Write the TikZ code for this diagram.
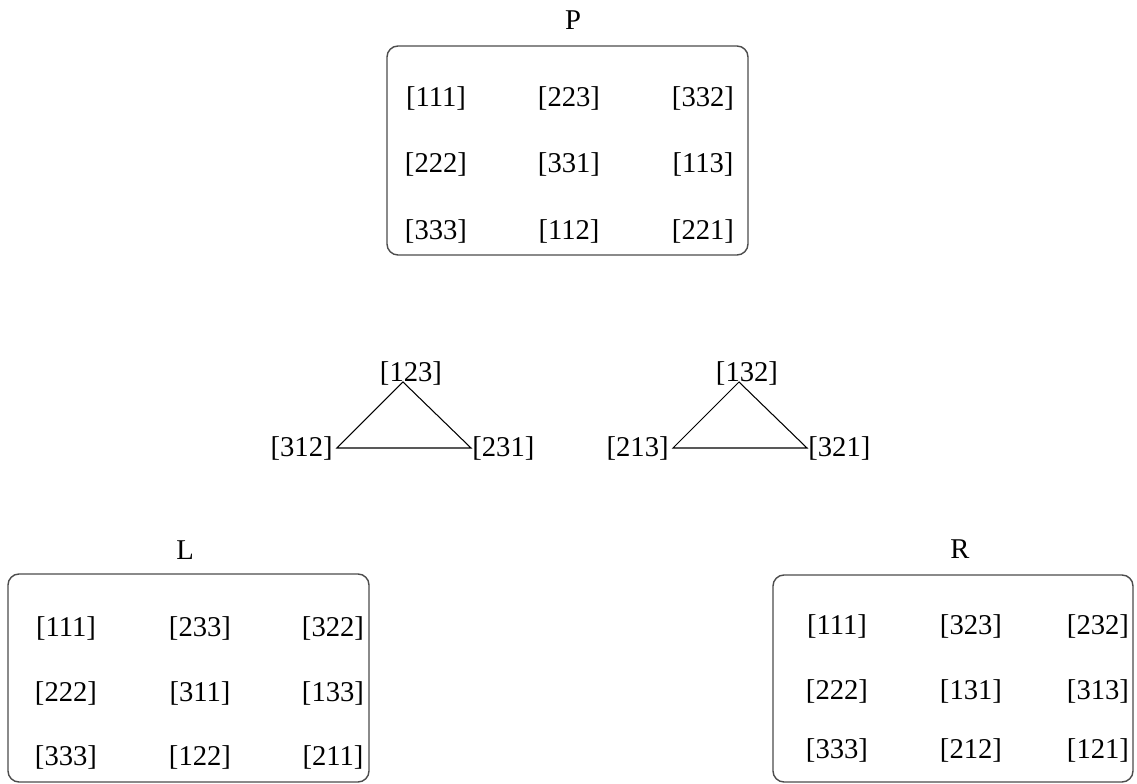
\documentclass[tikz,border=0pt]{standalone}
\usepackage{fontspec}
\setmainfont{Liberation Serif}
\usetikzlibrary{calc,positioning}

\begin{document}
\begin{tikzpicture}[
  every node/.style={font=\fontsize{16.3pt}{19pt}\selectfont, inner sep=0pt},
  group/.style={draw=black!70, line width=0.8pt, rounded corners=0.22cm},
  edge/.style={draw, line width=0.6pt}]
 \useasboundingbox (0,0) rectangle (22.74,15.68);
 %
 \draw[group] (7.74,10.58) rectangle (14.96,14.76);
 \node (P) at (11.46,15.28) {P};
 \foreach \y/\a/\b/\c [count=\r] in {13.72/111/223/332, 12.40/222/331/113, 11.06/333/112/221} {
   \node (p\r1) at (8.72,\y) {[\a]};
   \node (p\r2) at (11.38,\y) {[\b]};
   \node (p\r3) at (14.06,\y) {[\c]};
 }
 %
 \draw[group] (0.16,0.04) rectangle (7.38,4.20);
 \node (L) at (3.70,4.68) {L};
 \foreach \y/\a/\b/\c [count=\r] in {3.12/111/233/322, 1.82/222/311/133, 0.54/333/122/211} {
   \node (l\r1) at (1.32,\y) {[\a]};
   \node (l\r2) at (4.00,\y) {[\b]};
   \node (l\r3) at (6.66,\y) {[\c]};
 }
 %
 \draw[group] (15.46,0.04) rectangle (22.66,4.18);
 \node (R) at (19.20,4.70) {R};
 \foreach \y/\a/\b/\c [count=\r] in {3.16/111/323/232, 1.86/222/131/313, 0.68/333/212/121} {
   \node (r\r1) at (16.74,\y) {[\a]};
   \node (r\r2) at (19.42,\y) {[\b]};
   \node (r\r3) at (21.96,\y) {[\c]};
 }
 %
 \coordinate (a1) at (8.06,8.04);
 \coordinate (b1) at (6.74,6.72);
 \coordinate (c1) at (9.42,6.72);
 \coordinate (a2) at ($(a1)+(6.72,0)$);
 \coordinate (b2) at ($(b1)+(6.72,0)$);
 \coordinate (c2) at ($(c1)+(6.72,0)$);
 \node[anchor=base] (t123) at ($(a1)+(0.16,0)$) {[123]};
 \node[left=0.08cm of b1] (t312) {[312]};
 \node[right=0.02cm of c1] (t231) {[231]};
 \node[anchor=base] (t132) at ($(a2)+(0.16,0)$) {[132]};
 \node[left=0.08cm of b2] (t213) {[213]};
 \node[right=0.02cm of c2] (t321) {[321]};
 \draw[edge] (a1) -- (b1) -- (c1) -- cycle;
 \draw[edge] (a2) -- (b2) -- (c2) -- cycle;
\end{tikzpicture}
\end{document}
